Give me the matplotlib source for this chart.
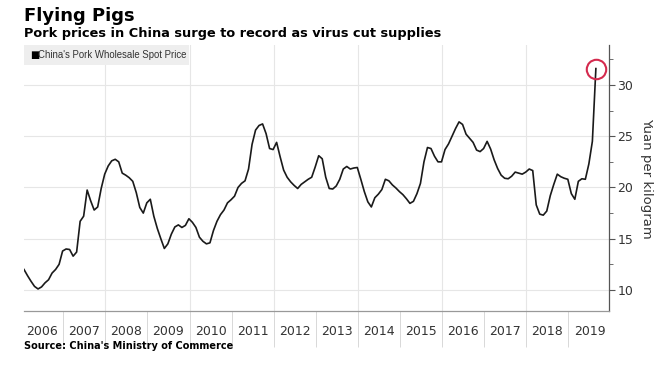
import matplotlib
matplotlib.use("Agg")
import matplotlib.pyplot as plt
from matplotlib.patches import Rectangle
from matplotlib.ticker import FixedLocator, NullFormatter
import numpy as np

# Monthly pork wholesale spot price, Jan 2006 .. Aug 2019 (yuan/kg)
prices = [
    12.0, 11.4, 10.85, 10.35, 10.1, 10.3, 10.7, 11.0, 11.65, 12.0, 12.5, 13.8,
    14.0, 13.95, 13.3, 13.7, 16.7, 17.2, 19.75, 18.7, 17.8, 18.1, 19.9, 21.3,
    22.1, 22.6, 22.75, 22.5, 21.4, 21.2, 20.95, 20.6, 19.5, 18.05, 17.5, 18.5,
    18.85, 17.2, 16.0, 15.0, 14.05, 14.5, 15.45, 16.15, 16.35, 16.1, 16.3, 16.95,
    16.6, 16.1, 15.15, 14.75, 14.5, 14.6, 15.8, 16.7, 17.35, 17.8, 18.5, 18.8,
    19.15, 20.0, 20.4, 20.65, 21.8, 24.2, 25.6, 26.05, 26.2, 25.25, 23.8, 23.7,
    24.4, 23.0, 21.7, 21.0, 20.55, 20.2, 19.9, 20.3, 20.55, 20.8, 21.0, 22.0,
    23.1, 22.8, 21.0, 19.9, 19.85, 20.15, 20.8, 21.8, 22.05, 21.8, 21.9, 21.95,
    20.8, 19.6, 18.6, 18.1, 19.0, 19.35, 19.8, 20.8, 20.65, 20.25, 19.95, 19.6,
    19.3, 18.9, 18.45, 18.65, 19.4, 20.4, 22.5, 23.9, 23.8, 23.05, 22.5, 22.5,
    23.7, 24.25, 25.0, 25.75, 26.4, 26.15, 25.2, 24.8, 24.4, 23.65, 23.5, 23.8,
    24.5, 23.75, 22.7, 21.85, 21.2, 20.9, 20.85, 21.1, 21.5, 21.4, 21.3, 21.5,
    21.8, 21.65, 18.3, 17.4, 17.3, 17.7, 19.2, 20.3, 21.3, 21.05, 20.9, 20.8,
    19.4, 18.85, 20.6, 20.85, 20.8, 22.3, 24.5, 31.6,
]
start_year = 2006
years = list(range(2006, 2020))
y_ticks = [10, 15, 20, 25, 30]

x = start_year + 0.069 + np.arange(len(prices)) / 12.0

W, H = 661, 371
fig = plt.figure(figsize=(W / 100, H / 100), dpi=100)
fig.patch.set_facecolor("white")

left, right, top, bottom = 24, 609, 45, 311
ax = fig.add_axes([left / W, 1 - bottom / H, (right - left) / W, (bottom - top) / H])

ax.set_xlim(2006.069, 2019.964)
ax.set_ylim(7.95, 33.9)

# grid
grid_c = "#e6e6e6"
for yv in y_ticks:
    ax.axhline(yv, color=grid_c, lw=0.8, zorder=0)
for gx in [2008, 2010, 2012, 2014, 2016, 2018]:
    ax.axvline(gx, color=grid_c, lw=0.8, zorder=0)

ax.plot(x, prices, color="#1a1a1a", lw=1.2, zorder=3)
ax.plot([x[-1]], [prices[-1]], marker="o", ms=14, mfc="none",
        mec="#d42a4e", mew=1.5, zorder=4, clip_on=False)

# spines
for s in ["left", "top"]:
    ax.spines[s].set_visible(False)
ax.spines["right"].set_color("#555555")
ax.spines["bottom"].set_color("#999999")
ax.spines["right"].set_linewidth(0.9)
ax.spines["bottom"].set_linewidth(0.9)

# right y axis
ax.yaxis.tick_right()
ax.yaxis.set_label_position("right")
ax.set_yticks(y_ticks)
ax.set_yticklabels([str(v) for v in y_ticks])
ax.yaxis.set_minor_locator(FixedLocator([12.5, 17.5, 22.5, 27.5, 32.5]))
ax.tick_params(axis="y", which="major", direction="out", length=4, width=0.8,
               color="#555555", labelsize=9, labelcolor="#333333", pad=2)
ax.tick_params(axis="y", which="minor", direction="out", length=3, width=0.6,
               color="#555555")
ax.set_ylabel("Yuan per kilogram", rotation=270, fontsize=9.5, color="#333333",
              labelpad=14)

# x axis: separators at year boundaries, labels at mid-year
ax.set_xticks([y for y in range(2007, 2020)])
ax.xaxis.set_major_formatter(NullFormatter())
ax.set_xticks([y + 0.5 for y in years], minor=True)
ax.set_xticklabels([str(y) for y in years], minor=True)
ax.tick_params(axis="x", which="major", direction="out", length=26, width=0.7,
               color="#d8d8d8")
ax.tick_params(axis="x", which="minor", length=0, labelsize=9,
               labelcolor="#333333", pad=10)

# legend box
fig.patches.append(Rectangle((24 / W, 1 - 65 / H), (189 - 24) / W, 20 / H,
                             transform=fig.transFigure, facecolor="#eeeeee",
                             edgecolor="none", zorder=5))
fig.text(30 / W, 1 - 55 / H, "\u25A0", fontsize=7, color="black",
         va="center", ha="left", zorder=6)
fig.text(38 / W, 1 - 55 / H, "China's Pork Wholesale Spot Price", fontsize=6.9,
         family="Liberation Sans", color="#333333", va="center", ha="left",
         zorder=6)

# titles
fig.text(24 / W, 1 - 16 / H, "Flying Pigs", fontsize=13, fontweight="bold",
         color="black", va="center", ha="left")
fig.text(24 / W, 1 - 34 / H,
         "Pork prices in China surge to record as virus cut supplies",
         fontsize=9.3, fontweight="bold", color="black", va="center", ha="left")
fig.text(24 / W, 1 - 346 / H, "Source: China's Ministry of Commerce",
         fontsize=7, fontweight="bold", color="black", va="center", ha="left")

fig.savefig("out.png", dpi=100, facecolor="white")
